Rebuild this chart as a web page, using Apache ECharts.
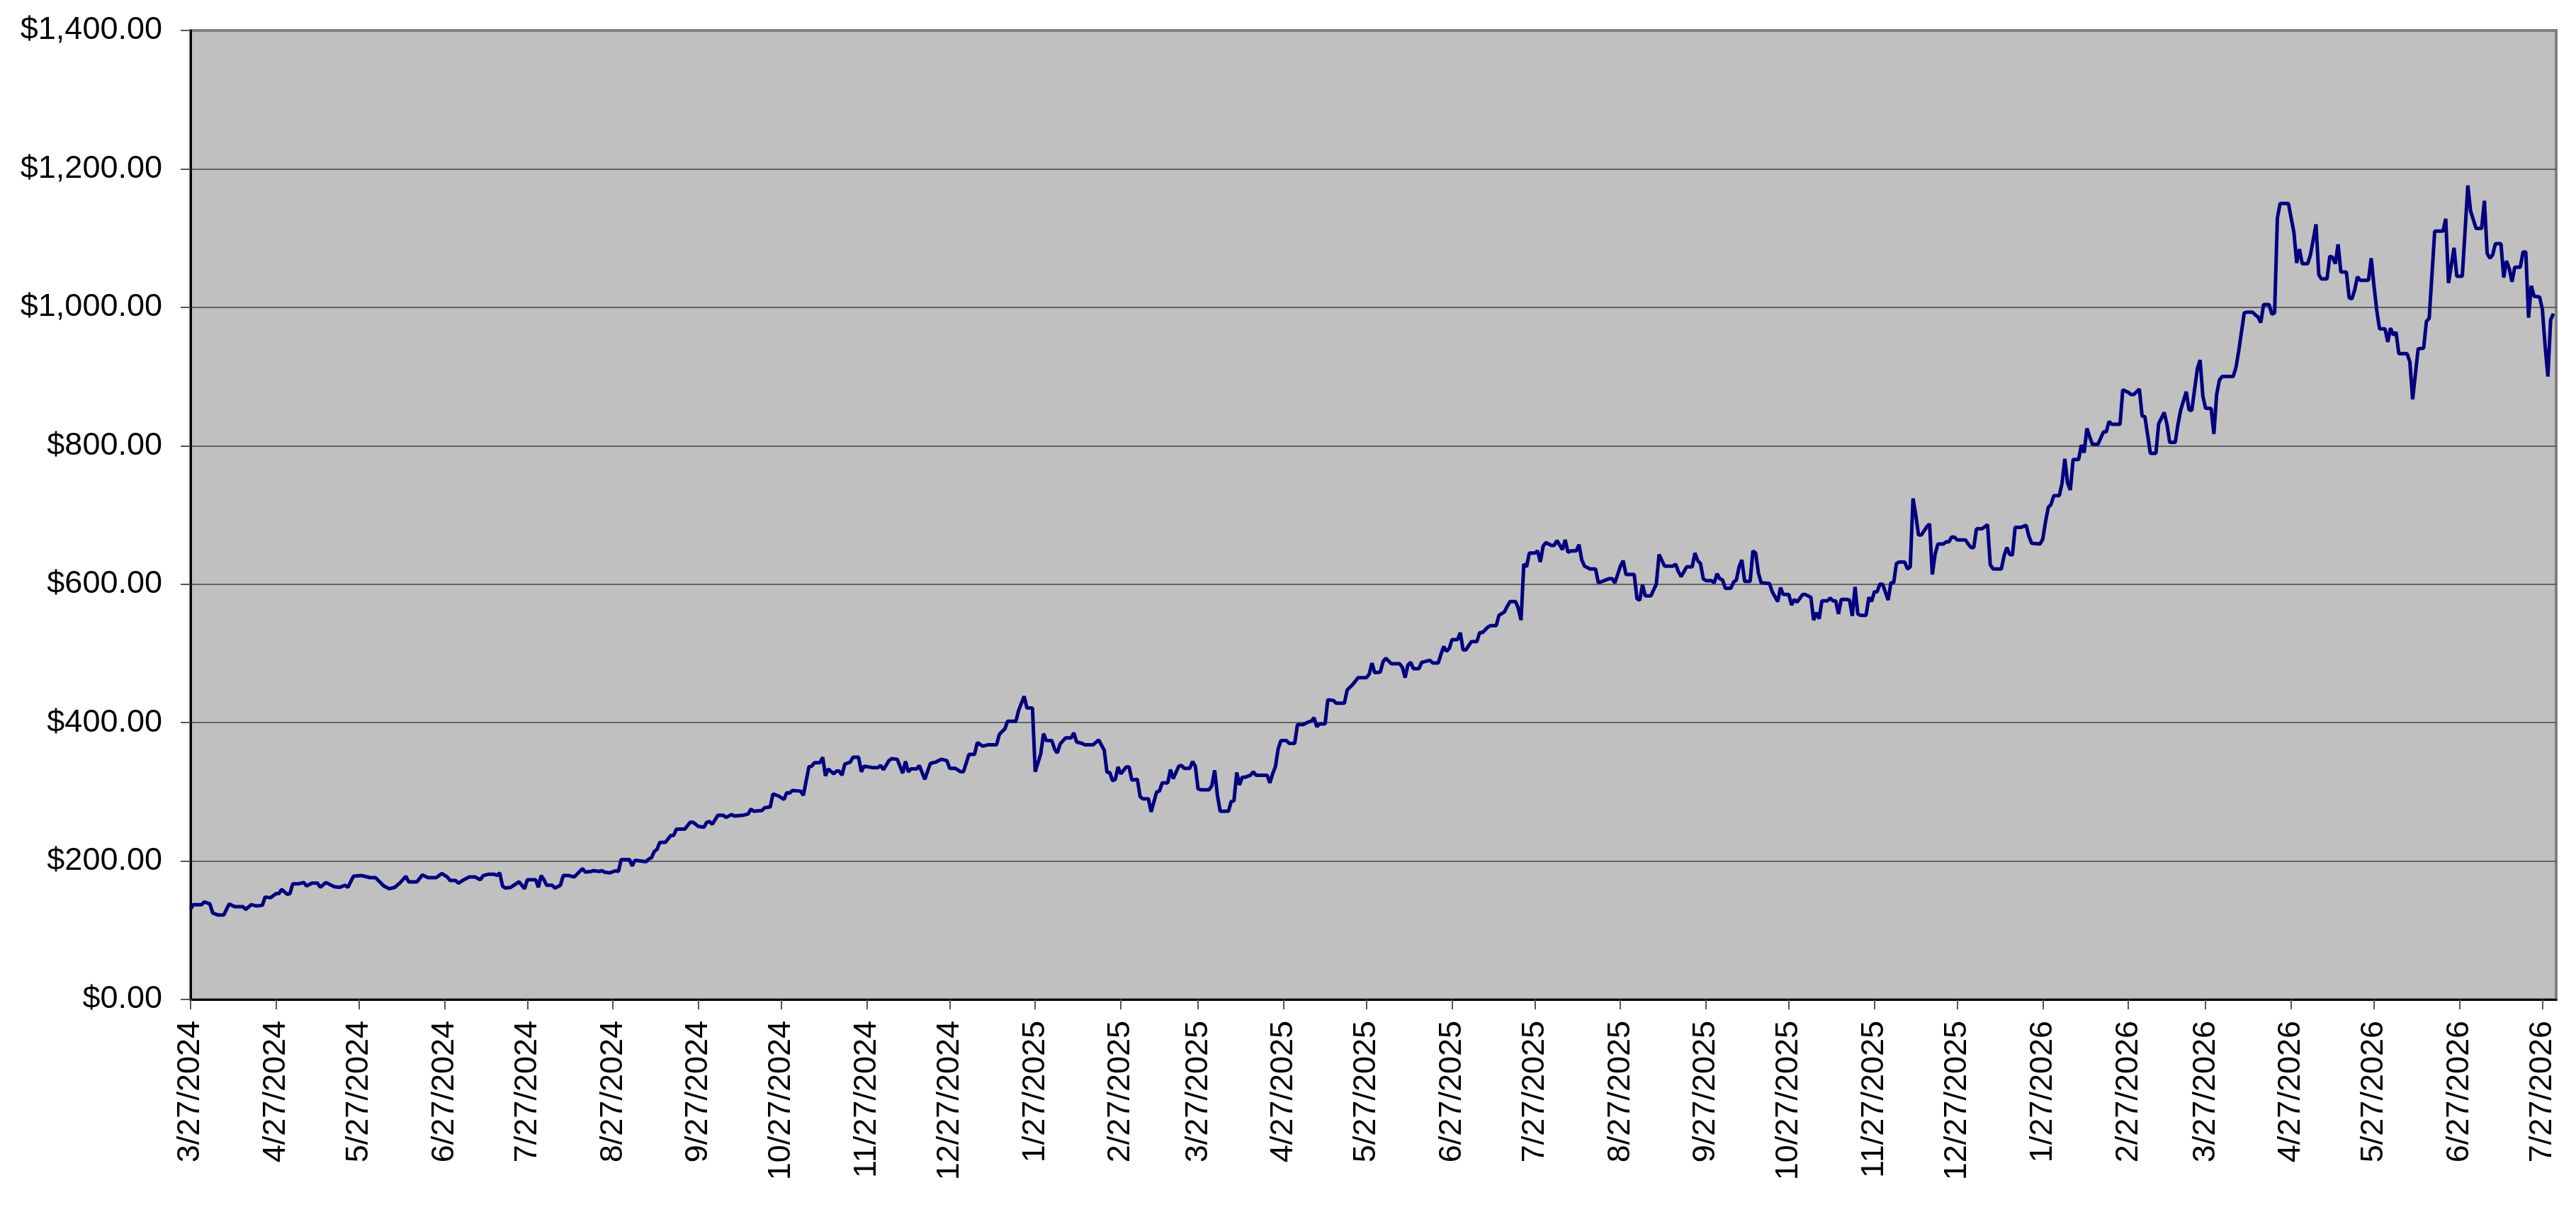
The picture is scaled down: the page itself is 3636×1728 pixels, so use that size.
<!DOCTYPE html>
<html>
<head>
<meta charset="utf-8">
<title>Value over time</title>
<script src="https://cdn.jsdelivr.net/npm/echarts@6/dist/echarts.min.js"></script>
<style>
  html, body { margin: 0; padding: 0; background: #ffffff; }
  #chart { width: 3636px; height: 1728px; }
</style>
</head>
<body>
<div id="chart"></div>
<script>
// day offsets are counted from startDate, values in dollars
var startDate = '2024-03-27';
var endDate = '2026-08-01';

var points2024 = [
  [0,131],[1,137],[4,137],[5,141],[7,138],[8,125],[10,122],[12,122],[13,130],[14,138],
  [16,134],[19,134],[20,130],[22,137],[24,135],[26,136],[27,148],[29,147],[31,153],[32,153],
  [33,159],[35,152],[36,153],[37,167],[39,167],[41,169],[42,164],[44,168],[46,168],[47,162],
  [49,169],[52,163],[54,162],[56,165],[57,162],[59,178],[62,179],[65,176],[67,176],[70,164],
  [72,160],[74,162],[76,169],[78,178],[79,170],[82,170],[84,180],[86,176],[89,176],[91,182],
  [93,177],[94,172],[96,172],[97,168],[99,173],[101,177],[103,177],[105,173],[106,179],[108,181],
  [110,181],[111,179],[112,183],[113,164],[114,161],[116,162],[119,170],[121,160],[122,173],[125,173],
  [126,162],[127,179],[128,173],[129,165],[131,165],[132,161],[134,165],[135,179],[137,179],[139,177],
  [142,189],[143,184],[145,185],[146,186],[148,185],[149,186],[150,184],[152,183],[154,186],[155,185],
  [156,202],[159,202],[160,193],[161,201],[165,199],[166,203],[167,205],[168,214],[169,217],[170,227],
  [172,227],[174,237],[175,237],[176,246],[179,246],[181,256],[182,256],[184,250],[186,249],[187,256],
  [188,257],[189,253],[191,266],[193,266],[194,263],[196,267],[197,265],[200,266],[202,268],[203,275],
  [204,272],[207,273],[208,277],[210,278],[211,297],[213,294],[215,289],[216,299],[217,298],[218,302],
  [221,301],[222,295],[224,336],[225,337],[226,342],[228,342],[229,350],[230,323],[231,333],[233,326],
  [234,330],[235,330],[236,324],[237,340],[239,343],[240,350],[242,350],[243,329],[244,337],[247,335],
  [249,335],[250,338],[251,332],[253,345],[254,348],[256,347],[258,327],[259,344],[260,329],[261,333],
  [263,333],[264,338],[266,318],[268,341],[270,343],[272,347],[274,345],[275,334],[277,334],[279,329]
];

var points2025 = [
  [280,329],[282,354],[284,354],[285,371],[287,366],[289,368],[292,368],[293,383],[294,387],[295,391],
  [296,402],[299,402],[300,418],[302,438],[303,421],[305,421],[306,329],[308,355],[309,384],[310,374],
  [312,374],[313,362],[314,356],[315,369],[317,378],[319,378],[320,385],[321,372],[323,370],[324,368],
  [327,368],[329,375],[331,360],[332,328],[333,328],[334,316],[335,318],[336,336],[337,326],[339,336],
  [340,336],[341,317],[343,318],[344,293],[345,290],[347,290],[348,271],[350,300],[351,301],[352,313],
  [354,313],[355,332],[356,319],[358,337],[359,338],[360,334],[362,334],[363,344],[364,337],[365,304],
  [366,303],[369,303],[370,309],[371,331],[372,295],[373,272],[376,272],[377,286],[378,287],[379,328],
  [380,310],[381,321],[382,321],[384,324],[385,329],[386,324],[390,324],[391,313],[392,326],[393,336],
  [394,362],[395,374],[397,374],[398,370],[400,370],[401,397],[403,397],[405,401],[406,402],[407,407],
  [408,394],[409,398],[411,398],[412,433],[414,432],[415,428],[418,428],[419,447],[420,451],[421,455],
  [423,465],[426,465],[427,470],[428,486],[429,472],[431,473],[432,488],[433,493],[435,485],[438,485],
  [439,480],[440,465],[441,483],[442,487],[443,478],[445,478],[446,487],[449,490],[450,486],[452,486],
  [453,499],[454,510],[455,503],[456,507],[457,520],[459,520],[460,530],[461,505],[462,505],[464,517],
  [466,517],[467,530],[468,530],[470,538],[471,540],[473,540],[474,555],[476,560],[477,568],[478,575],
  [480,575],[481,565],[482,548],[483,629],[484,625],[485,645],[487,645],[488,648],[489,632],[490,655],
  [491,660],[493,656],[494,656],[495,663],[497,650],[498,664],[499,646],[500,648],[502,648],[503,657],
  [504,635],[505,626],[507,622],[509,622],[510,602],[512,605],[514,608],[515,608],[516,602],[518,626],
  [519,634],[520,614],[523,614],[524,579],[525,577],[526,599],[527,583],[529,583],[531,600],[532,643],
  [534,626],[537,626],[538,629],[539,618],[540,611],[542,625],[544,625],[545,645],[546,634],[547,630],
  [548,608],[549,605],[551,605],[552,602],[553,615],[554,608],[555,606],[556,594],[558,594],[559,603],
  [560,606],[561,625],[562,635],[563,604],[565,604],[566,648],[567,645],[568,616],[569,602],[572,601],
  [573,589],[575,575],[576,595],[577,585],[579,585],[580,570],[581,578],[582,574],[584,585],[585,585],
  [587,581],[588,548],[589,559],[590,550],[591,576],[593,576],[594,580],[595,576],[596,576],[597,557],
  [598,578],[600,578],[601,577],[602,554],[603,596],[604,557],[605,555],[607,555],[608,581],[609,575],
  [610,589],[611,589],[612,600],[613,600],[615,577],[616,602],[617,602],[618,630],[619,632],[621,632],
  [622,622],[623,625],[624,724],[625,700],[626,671],[627,671],[629,683],[630,687],[631,614],[632,643],
  [633,658],[635,658],[636,661],[637,661],[638,668],[639,668],[640,664],[643,664],[644,658]
];

var points2026 = [
  [645,653],[646,653],[647,680],[649,680],[651,686],[652,628],[653,622],[656,622],[657,641],[658,653],
  [659,643],[660,642],[661,682],[663,682],[665,685],[666,669],[667,659],[670,658],[671,665],[672,690],
  [673,711],[674,715],[675,728],[677,728],[678,746],[679,781],[680,746],[681,736],[682,780],[684,780],
  [685,801],[686,790],[687,825],[688,813],[689,802],[691,802],[693,820],[694,820],[695,835],[696,831],
  [699,831],[700,881],[702,877],[703,874],[704,874],[706,882],[707,843],[708,842],[710,789],[712,789],
  [713,832],[715,848],[716,831],[717,805],[719,805],[720,831],[721,852],[723,878],[724,852],[725,851],
  [726,881],[727,911],[728,924],[729,872],[730,854],[732,854],[733,817],[734,874],[735,895],[736,900],
  [740,900],[741,913],[742,937],[744,992],[745,993],[747,993],[748,989],[749,986],[750,978],[751,1004],
  [753,1004],[754,990],[755,992],[756,1129],[757,1150],[760,1150],[762,1108],[763,1064],[764,1084],[765,1063],
  [767,1063],[768,1076],[770,1120],[771,1047],[772,1041],[774,1041],[775,1074],[776,1072],[777,1063],[778,1091],
  [779,1051],[781,1051],[782,1014],[783,1012],[784,1025],[785,1044],[786,1039],[789,1039],[790,1071],[791,1031],
  [792,996],[793,969],[795,969],[796,950],[797,970],[798,960],[799,964],[800,933],[803,933],[804,921],
  [805,867],[807,940],[809,941],[810,980],[811,984],[813,1110],[816,1110],[817,1128],[818,1035],[820,1086],
  [821,1045],[823,1045],[825,1176],[826,1139],[828,1114],[830,1114],[831,1154],[832,1078],[833,1071],[834,1076],
  [835,1092],[837,1092],[838,1043],[839,1067],[840,1056],[841,1037],[842,1058],[844,1058],[845,1080],[846,1080],
  [847,985],[848,1031],[849,1016],[851,1015],[852,997],[853,944],[854,900],[855,982],[856,991]
];

var tickLabels = [
  '3/27/2024','4/27/2024','5/27/2024','6/27/2024','7/27/2024','8/27/2024','9/27/2024',
  '10/27/2024','11/27/2024','12/27/2024','1/27/2025','2/27/2025','3/27/2025','4/27/2025',
  '5/27/2025','6/27/2025','7/27/2025','8/27/2025','9/27/2025','10/27/2025','11/27/2025',
  '12/27/2025','1/27/2026','2/27/2026','3/27/2026','4/27/2026','5/27/2026','6/27/2026','7/27/2026'
];

var yMin = 0, yMax = 1400, yStep = 200;

var DAY = 86400000;
var t0 = Date.parse(startDate + 'T00:00:00Z');

function parseMDY(s) {
  var p = s.split('/');
  return Date.UTC(+p[2], +p[0] - 1, +p[1]);
}
function dayOf(ms) {
  return Math.round((ms - t0) / DAY);
}
function fmtMoney(v) {
  return '$' + v.toFixed(2).replace(/\B(?=(\d{3})+(?!\d))/g, ',');
}

var seriesData = points2024.concat(points2025, points2026);
var tickDays = tickLabels.map(function (s) { return dayOf(parseMDY(s)); });
var labelByDay = {};
tickDays.forEach(function (d, i) { labelByDay[d] = tickLabels[i]; });

var chart = echarts.init(document.getElementById('chart'), null, { renderer: 'canvas' });
chart.setOption({
  animation: false,
  backgroundColor: '#ffffff',
  grid: {
    left: 269, right: 28, top: 43, bottom: 317,
    show: true,
    backgroundColor: '#C0C0C0',
    borderColor: '#808080',
    borderWidth: 4
  },
  xAxis: {
    type: 'value',
    min: 0,
    max: dayOf(Date.parse(endDate + 'T00:00:00Z')),
    axisLine: { show: true, lineStyle: { color: '#000000', width: 3 } },
    axisTick: {
      show: true, length: 14, customValues: tickDays,
      lineStyle: { color: '#555555', width: 2 }
    },
    axisLabel: {
      customValues: tickDays,
      rotate: 90,
      margin: 30,
      fontSize: 45,
      fontFamily: 'Liberation Sans, Arial, sans-serif',
      color: '#000000',
      formatter: function (v) { return labelByDay[Math.round(v)] || ''; }
    },
    splitLine: { show: false }
  },
  yAxis: {
    type: 'value',
    min: yMin, max: yMax, interval: yStep,
    axisLine: { show: true, lineStyle: { color: '#000000', width: 3 } },
    axisTick: { show: true, length: 14, lineStyle: { color: '#555555', width: 2 } },
    axisLabel: {
      margin: 40,
      fontSize: 45,
      fontFamily: 'Liberation Sans, Arial, sans-serif',
      color: '#000000',
      formatter: fmtMoney
    },
    splitLine: { show: true, showMaxLine: false, lineStyle: { color: '#444444', width: 1.5 } }
  },
  series: [{
    type: 'line',
    data: seriesData,
    showSymbol: false,
    symbol: 'none',
    lineStyle: { color: '#000080', width: 5 }
  }]
});
</script>
</body>
</html>
